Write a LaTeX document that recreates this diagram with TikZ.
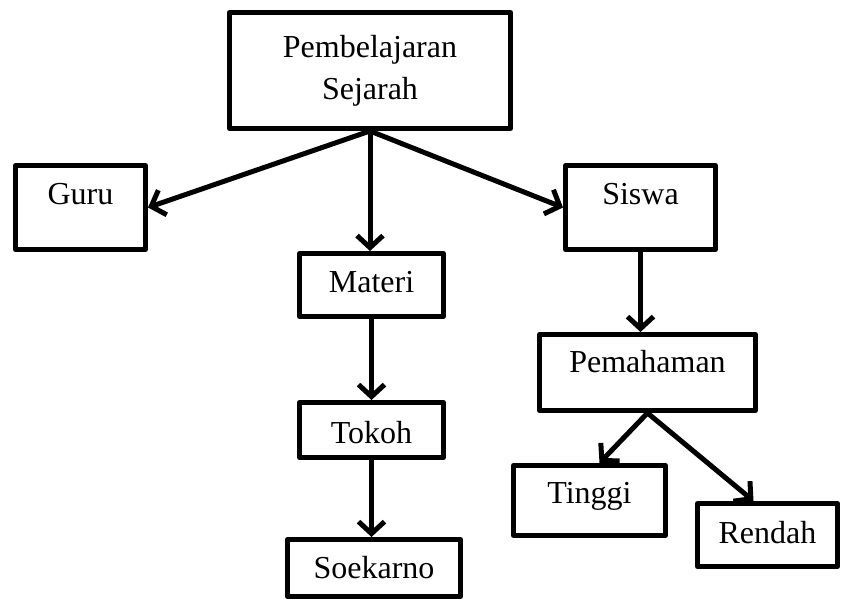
\documentclass[tikz,border=0pt]{standalone}
\usepackage{fontspec}
\setmainfont{Liberation Serif}
\usetikzlibrary{arrows.meta}
\tikzset{
  box/.style={draw, line width=5pt, line join=round, inner sep=0pt,
    font=\fontsize{32}{42}\selectfont, minimum width=#1},
  tb/.style 2 args={text height=#1, text depth=#2},
  conn/.style={line width=5pt, -{Straight Barb[length=12pt,width=26pt]}}
}
\begin{document}
\begin{tikzpicture}[x=1pt,y=-1pt]
\useasboundingbox (0,0) rectangle (843,601);
\node[box=281pt, minimum height=116pt, align=center] (top) at (370,70.5) {Pembelajaran\\Sejarah};
\node[box=130pt, minimum height=84pt, tb={22pt}{27pt}] (guru) at (80.5,207.5) {Guru};
\node[box=150pt, minimum height=84pt, tb={22pt}{27pt}] (siswa) at (640.5,207.5) {Siswa};
\node[box=144pt, minimum height=63pt, tb={22pt}{6pt}] (materi) at (371.5,285) {Materi};
\node[box=144pt, minimum height=55pt, tb={26pt}{0pt}] (tokoh) at (371.5,430) {Tokoh};
\node[box=173pt, minimum height=57pt, tb={22pt}{2pt}] (soekarno) at (374,568) {Soekarno};
\node[box=216pt, minimum height=76pt, tb={22pt}{21pt}] (pem) at (647.5,372.5) {Pemahaman};
\node[box=152pt, minimum height=70pt, tb={22pt}{17pt}] (tinggi) at (589.5,500.5) {Tinggi};
\node[box=140pt, minimum height=63pt, tb={22pt}{6pt}] (rendah) at (767.5,535) {Rendah};
\draw[conn] (top.south) -- (guru.east);
\draw[conn] (top.south) -- (siswa.west);
\draw[conn] (top.south) -- (top.south |- materi.north);
\draw[conn] (materi.south) -- (tokoh.north);
\draw[conn] (tokoh.south) -- (tokoh.south |- soekarno.north);
\draw[conn] (siswa.south) -- (siswa.south |- pem.north);
\draw[conn] (pem.south) -- ([xshift=10pt]tinggi.north);
\draw[conn] (pem.south) -- ([xshift=-14pt]rendah.north);
\end{tikzpicture}
\end{document}
